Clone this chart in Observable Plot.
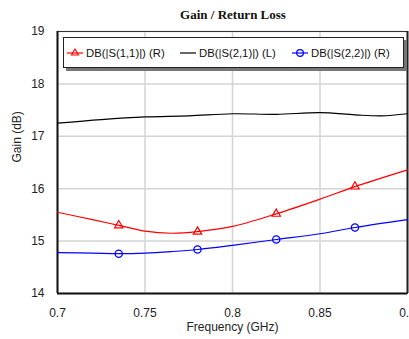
<!DOCTYPE html>
<html><head><meta charset="utf-8">
<script src="https://cdn.jsdelivr.net/npm/d3@7"></script>
<script src="https://cdn.jsdelivr.net/npm/@observablehq/plot@0.6"></script>
<style>
body{margin:0;background:#fff;font-family:"Liberation Sans",Arial,sans-serif;}
#wrap{position:relative;width:409px;height:339px;overflow:hidden;}
#title{position:absolute;left:0;width:466px;top:7px;text-align:center;font:bold 13px "Liberation Serif","Times New Roman",serif;color:#111;}
#legend{position:absolute;left:63px;top:37px;width:339px;height:29px;border:1px solid #222;background:#fff;box-shadow:3px 3px 0 #777;font-size:11.3px;color:#111;}
#legend .it{position:absolute;top:0;height:29px;display:flex;align-items:center;white-space:nowrap;}
#legend svg{margin-right:3px;}
</style></head><body><div id="wrap"><div id="title"></div></div>
<script>
const titleText = "Gain / Return Loss";
const xLabel = "Frequency (GHz)";
const yLabel = "Gain (dB)";
const seriesNames = ["DB(|S(1,1)|) (R)", "DB(|S(2,1)|) (L)", "DB(|S(2,2)|) (R)"];
const seriesColors = ["#ff0000", "#000000", "#0000ff"];
const xTicks = [0.7, 0.75, 0.8, 0.85, 0.9];
const yTicks = [14, 15, 16, 17, 18, 19];

const freq = [0.7, 0.72, 0.735, 0.75, 0.765, 0.78, 0.8, 0.825, 0.85, 0.87, 0.9];
const s11 = [15.55, 15.41, 15.30, 15.19, 15.15, 15.18, 15.28, 15.52, 15.80, 16.04, 16.36];
const s22 = [14.78, 14.77, 14.76, 14.77, 14.80, 14.84, 14.92, 15.03, 15.14, 15.26, 15.41];
const freq21 = [0.7, 0.725, 0.75, 0.775, 0.8, 0.825, 0.85, 0.87, 0.885, 0.9];
const s21 = [17.25, 17.32, 17.37, 17.39, 17.43, 17.42, 17.45, 17.41, 17.39, 17.43];
const markerFreq = [0.735, 0.78, 0.825, 0.87];

const d11 = freq.map((f, i) => ({f, v: s11[i]}));
const d22 = freq.map((f, i) => ({f, v: s22[i]}));
const d21 = freq21.map((f, i) => ({f, v: s21[i]}));
const isMarker = d => markerFreq.some(m => Math.abs(m - d.f) < 1e-9);

const plot = Plot.plot({
  width: 409, height: 339,
  marginLeft: 57, marginRight: 2, marginTop: 31, marginBottom: 46,
  style: {fontFamily: '"Liberation Sans", Arial, sans-serif', fontSize: "12px", color: "#222", background: "#fff", overflow: "hidden"},
  x: {domain: [0.7, 0.9]},
  y: {domain: [14, 19]},
  marks: [
    Plot.gridX(xTicks, {stroke: "#d4d4d4", strokeWidth: 1.5, strokeOpacity: 1}),
    Plot.gridY(yTicks, {stroke: "#d4d4d4", strokeWidth: 1.5, strokeOpacity: 1}),
    Plot.frame({stroke: "#333", strokeWidth: 1}),
    Plot.axisX(xTicks, {tickSize: 0, tickPadding: 15, label: null, tickFormat: d => String(d), fontSize: 12}),
    Plot.axisY(yTicks, {tickSize: 0, tickPadding: 13, label: null, tickFormat: d => String(d), fontSize: 12}),
    Plot.ruleX([0.7], {stroke: "#111", strokeWidth: 2}),
    Plot.ruleX([0.9], {stroke: "#222", strokeWidth: 2}),
    Plot.ruleY([14], {stroke: "#111", strokeWidth: 2}),
    Plot.line(d21, {x: "f", y: "v", stroke: seriesColors[1], strokeWidth: 1.2, curve: "catmull-rom"}),
    Plot.line(d11, {x: "f", y: "v", stroke: seriesColors[0], strokeWidth: 1.2, curve: "catmull-rom"}),
    Plot.line(d22, {x: "f", y: "v", stroke: seriesColors[2], strokeWidth: 1.2, curve: "catmull-rom"}),
    Plot.dot(d11.filter(isMarker), {x: "f", y: "v", symbol: "triangle", r: 3.1, stroke: seriesColors[0], fill: "none", strokeWidth: 1.2}),
    Plot.dot(d22.filter(isMarker), {x: "f", y: "v", symbol: "circle", r: 3.6, stroke: seriesColors[2], fill: "none", strokeWidth: 1.3}),
    Plot.text([xLabel], {frameAnchor: "bottom", dy: 37, text: d => d, fontSize: 12, fill: "#222"}),
    Plot.text([yLabel], {frameAnchor: "left", dx: -40, rotate: -90, text: d => d, fontSize: 12, fill: "#222", style: "letter-spacing:0.6px"})
  ]
});
const wrap = document.getElementById("wrap");
wrap.insertBefore(plot, wrap.firstChild);
plot.style.position = "absolute"; plot.style.left = "0"; plot.style.top = "0";
document.getElementById("title").textContent = titleText;

const legend = document.createElement("div");
legend.id = "legend";
const lefts = [3, 116, 228];
seriesNames.forEach((name, i) => {
  const it = document.createElement("div");
  it.className = "it";
  it.style.left = lefts[i] + "px";
  let sym = "";
  if (i === 0) sym = `<path d="M8,3 L11.5,9 L4.5,9 Z" fill="none" stroke="${seriesColors[i]}" stroke-width="1.1"/>`;
  if (i === 2) sym = `<circle cx="8" cy="7" r="3.4" fill="none" stroke="${seriesColors[i]}" stroke-width="1.2"/>`;
  it.innerHTML = `<svg width="16" height="14"><line x1="0" x2="16" y1="7" y2="7" stroke="${seriesColors[i]}" stroke-width="1.2"/>${sym}</svg><span>${name}</span>`;
  legend.appendChild(it);
});
wrap.appendChild(legend);
</script>
</body></html>
